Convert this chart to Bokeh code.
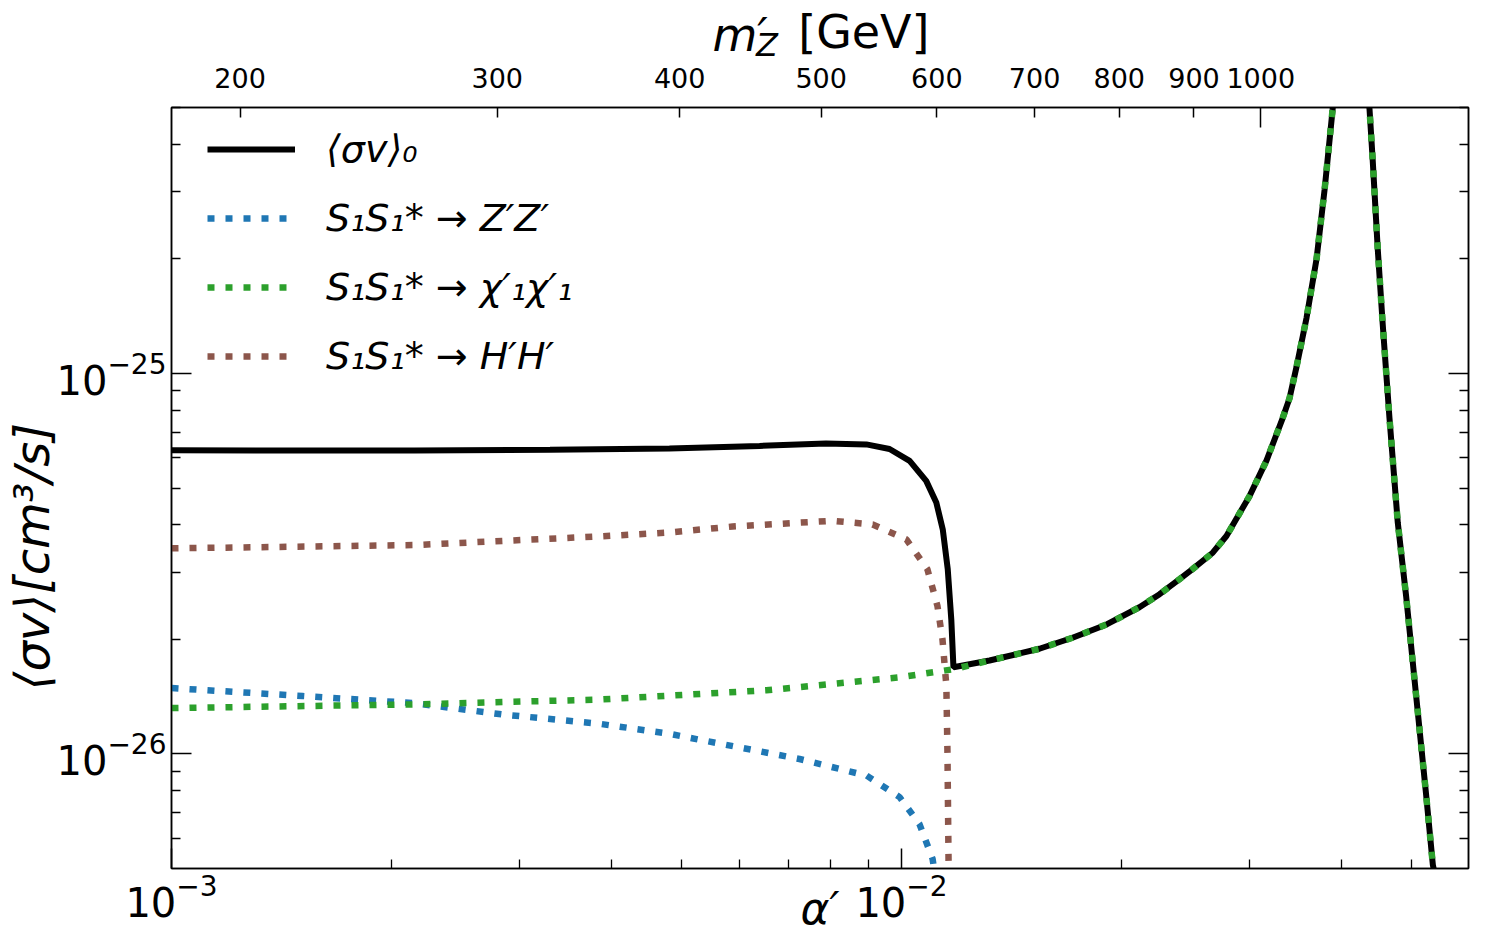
import math
from bokeh.plotting import figure
from bokeh.models import (Range1d, LogScale, LogAxis, LinearAxis, FixedTicker,
                          Legend, LegendItem)
from bokeh.embed import file_html
from bokeh.resources import INLINE

# ---------------- data ----------------
# total <sigma v>_0 before the kink (afterwards it equals the chi' channel)
alpha_tot_head = [1.0e-3, 2.152e-3, 3.3e-3, 4.81e-3, 6.39e-3, 7.88e-3, 8.95e-3,
                  9.63e-3, 1.026e-2, 1.081e-2, 1.116e-2, 1.139e-2, 1.157e-2,
                  1.170e-2, 1.178e-2]
sv_tot_head = [6.28e-26, 6.27e-26, 6.30e-26, 6.35e-26, 6.45e-26, 6.55e-26, 6.51e-26,
               6.33e-26, 5.89e-26, 5.22e-26, 4.58e-26, 3.89e-26, 3.06e-26,
               2.26e-26, 1.69e-26]

# S1 S1* -> chi'_1 chi'_1
alpha_chi = [1.0e-3, 2.15e-3, 3.86e-3, 6.53e-3, 9.94e-3, 1.178e-2, 1.320e-2,
             1.545e-2, 1.715e-2, 1.910e-2, 2.118e-2, 2.257e-2, 2.404e-2, 2.504e-2,
             2.669e-2, 2.787e-2, 2.997e-2, 3.162e-2, 3.325e-2, 3.400e-2, 3.476e-2,
             3.588e-2, 3.703e-2, 3.798e-2, 3.895e-2, 3.98e-2, 4.12e-2, 4.26e-2,
             4.377e-2, 4.420e-2, 4.491e-2, 4.562e-2, 4.660e-2, 4.784e-2, 4.913e-2,
             5.070e-2, 5.233e-2, 5.344e-2, 5.46e-2]
sv_chi = [1.32e-26, 1.35e-26, 1.39e-26, 1.47e-26, 1.59e-26, 1.67e-26, 1.76e-26,
          1.89e-26, 2.02e-26, 2.19e-26, 2.43e-26, 2.63e-26, 2.88e-26, 3.06e-26,
          3.38e-26, 3.74e-26, 4.76e-26, 5.9e-26, 7.6e-26, 8.6e-26, 1.04e-25,
          1.40e-25, 2.0e-25, 3.04e-25, 4.93e-25, 8.5e-25, 3.0e-24, 9.0e-25,
          4.93e-25, 3.65e-25, 2.13e-25, 1.35e-25, 7.66e-26, 4.06e-26, 2.59e-26,
          1.42e-26, 7.78e-27, 5.11e-27, 4.2e-27]

# S1 S1* -> Z' Z'
alpha_zz = [1.0e-3, 1.512e-3, 2.15e-3, 2.84e-3, 3.86e-3, 4.81e-3, 5.29e-3, 7.25e-3,
            8.96e-3, 9.94e-3, 1.058e-2, 1.103e-2, 1.127e-2]
sv_zz = [1.49e-26, 1.42e-26, 1.36e-26, 1.27e-26, 1.20e-26, 1.13e-26, 1.09e-26, 9.7e-27,
         8.77e-27, 7.7e-27, 6.55e-27, 5.3e-27, 4.0e-27]

# S1 S1* -> H' H'
alpha_hh = [1.0e-3, 2.15e-3, 3.86e-3, 4.81e-3, 5.87e-3, 8.04e-3, 9.13e-3, 1.016e-2,
            1.085e-2, 1.120e-2, 1.138e-2, 1.152e-2, 1.156e-2, 1.160e-2, 1.161e-2]
sv_hh = [3.47e-26, 3.54e-26, 3.73e-26, 3.82e-26, 3.96e-26, 4.10e-26, 4.01e-26, 3.66e-26,
         3.06e-26, 2.45e-26, 2.00e-26, 1.51e-26, 1.01e-26, 5.2e-27, 2.0e-27]

# after the kink the total follows the chi' channel
kink = alpha_tot_head[-1]
alpha_tot = alpha_tot_head + [a for a in alpha_chi if a > kink]
sv_tot = sv_tot_head + [s for a, s in zip(alpha_chi, sv_chi) if a > kink]

# axes / ticks
x_lim = [1.0e-3, 0.0598]
y_lim = [5.0e-27, 5.0e-25]
m_lim = [179.5, 1387.5]
x_major = [1e-3, 1e-2]
x_minor = [2e-3, 3e-3, 4e-3, 5e-3, 6e-3, 7e-3, 8e-3, 9e-3, 2e-2, 3e-2, 4e-2, 5e-2]
y_major = [1e-26, 1e-25]
y_minor = [6e-27, 7e-27, 8e-27, 9e-27, 2e-26, 3e-26, 4e-26, 5e-26, 6e-26, 7e-26,
           8e-26, 9e-26, 2e-25, 3e-25, 4e-25, 5e-25]
m_ticks = [200, 300, 400, 500, 600, 700, 800, 900, 1000]
m_major = [1000]
m_minor = [200, 300, 400, 500, 600, 700, 800, 900]

labels = ["⟨σv⟩₀", "S₁S₁* → Z′Z′", "S₁S₁* → χ′₁χ′₁", "S₁S₁* → H′H′"]
x_title = "α′"
y_title = "⟨σv⟩[cm³/s]"
top_title_main = "m′"
top_title_sub = "Z"
top_title_unit = "[GeV]"

FONT = "DejaVu Sans"
NB = "\u00a0"

p = figure(width=1484, height=936, x_axis_type="log", y_axis_type="log",
           x_range=Range1d(*x_lim), y_range=Range1d(*y_lim),
           output_backend="svg", toolbar_location=None,
           min_border_left=171, min_border_right=16, min_border_top=107,
           min_border_bottom=68)
p.grid.visible = False
p.outline_line_color = "black"
p.outline_line_width = 1.5
p.background_fill_color = "white"
p.border_fill_color = "white"

p.extra_x_ranges = {"m": Range1d(*m_lim)}
p.extra_x_scales = {"m": LogScale()}

# main axes
xa = p.xaxis[0]
ya = p.yaxis[0]
xa.ticker = FixedTicker(ticks=x_major, minor_ticks=x_minor)
ya.ticker = FixedTicker(ticks=y_major, minor_ticks=y_minor)

right = LogAxis(ticker=FixedTicker(ticks=y_major, minor_ticks=y_minor))
p.add_layout(right, "right")

for ax in (xa, ya, right):
    ax.major_tick_in = 20
    ax.major_tick_out = 0
    ax.minor_tick_in = 9
    ax.minor_tick_out = 0
    ax.major_tick_line_width = 1.5
    ax.minor_tick_line_width = 1.3
    ax.axis_line_width = 1.5
    ax.major_label_text_font = FONT
    ax.major_label_text_font_size = "40px"
    ax.major_label_text_color = "black"
    ax.major_label_standoff = 5

# mirrored right axis: ticks only (labels invisible)
right.major_label_text_font_size = "2px"
right.major_label_text_alpha = 0
right.major_label_standoff = 0

# x axis title
xa.axis_label = x_title
xa.axis_label_text_font = FONT
xa.axis_label_text_font_size = "44px"
xa.axis_label_text_font_style = "italic"
xa.axis_label_text_color = "black"
xa.axis_label_standoff = -37

# y axis title (shifted down with trailing no-break spaces, like the reference)
ya.axis_label = y_title + NB * 9
ya.axis_label_text_font = FONT
ya.axis_label_text_font_size = "48px"
ya.axis_label_text_font_style = "italic"
ya.axis_label_text_color = "black"
ya.axis_label_standoff = -6

# top m'_Z axis: tick marks (1000 = major, longer; others minor)
top_t = LinearAxis(x_range_name="m", ticker=FixedTicker(ticks=m_major, minor_ticks=m_minor))
top_t.major_tick_in = 20
top_t.major_tick_out = 0
top_t.minor_tick_in = 10
top_t.minor_tick_out = 0
top_t.major_tick_line_width = 1.5
top_t.minor_tick_line_width = 1.5
top_t.axis_line_width = 1.5
top_t.major_label_text_font_size = "2px"
top_t.major_label_text_alpha = 0
top_t.major_label_standoff = 0
p.add_layout(top_t, "above")

# top m'_Z tick labels
top = LinearAxis(x_range_name="m", ticker=FixedTicker(ticks=m_ticks, minor_ticks=[]))
top.axis_line_color = None
top.major_tick_line_color = None
top.minor_tick_line_color = None
top.major_tick_in = 0
top.major_tick_out = 0
top.major_label_text_font = FONT
top.major_label_text_font_size = "27px"
top.major_label_text_color = "black"
top.major_label_standoff = 20
p.add_layout(top, "above")

# top title pieces, anchored on the m'_Z scale
z_anchor = [459]
m_anchor = [440]
top_z = LinearAxis(x_range_name="m", ticker=FixedTicker(ticks=z_anchor, minor_ticks=[]),
                   major_label_overrides={z_anchor[0]: top_title_sub})
top_m = LinearAxis(x_range_name="m", ticker=FixedTicker(ticks=m_anchor, minor_ticks=[]),
                   major_label_overrides={m_anchor[0]: top_title_main})
for ax in (top_z, top_m):
    ax.axis_line_color = None
    ax.major_tick_line_color = None
    ax.minor_tick_line_color = None
    ax.major_tick_in = 0
    ax.major_tick_out = 0
    ax.major_label_text_font = FONT
    ax.major_label_text_font_style = "italic"
    ax.major_label_text_color = "black"
top_z.major_label_text_font_size = "32px"
top_z.major_label_standoff = 1
top_m.major_label_text_font_size = "46px"
top_m.major_label_standoff = -39
top_m.axis_label = NB * 6 + top_title_unit
top_m.axis_label_text_font = FONT
top_m.axis_label_text_font_size = "46px"
top_m.axis_label_text_font_style = "normal"
top_m.axis_label_text_color = "black"
top_m.axis_label_standoff = -54
p.add_layout(top_z, "above")
p.add_layout(top_m, "above")

# curves
r_tot = p.line(alpha_tot, sv_tot, line_color="black", line_width=6)
r_zz = p.line(alpha_zz, sv_zz, line_color="#1f77b4", line_width=6.5, line_dash="7 11")
r_chi = p.line(alpha_chi, sv_chi, line_color="#2ca02c", line_width=6.5, line_dash="7 11")
r_hh = p.line(alpha_hh, sv_hh, line_color="#8c564b", line_width=6.5, line_dash="7 11")

legend = Legend(items=[LegendItem(label=labels[0], renderers=[r_tot]),
                       LegendItem(label=labels[1], renderers=[r_zz]),
                       LegendItem(label=labels[2], renderers=[r_chi]),
                       LegendItem(label=labels[3], renderers=[r_hh])],
                location=(36, 490))
legend.label_text_font = FONT
legend.label_text_font_size = "38px"
legend.label_text_font_style = "italic"
legend.label_text_color = "black"
legend.glyph_width = 88
legend.glyph_height = 44
legend.label_height = 44
legend.label_standoff = 31
legend.spacing = 25
legend.padding = 0
legend.margin = 0
legend.border_line_color = None
legend.background_fill_alpha = 0
p.add_layout(legend)

open("out.html", "w").write(file_html(p, INLINE))
